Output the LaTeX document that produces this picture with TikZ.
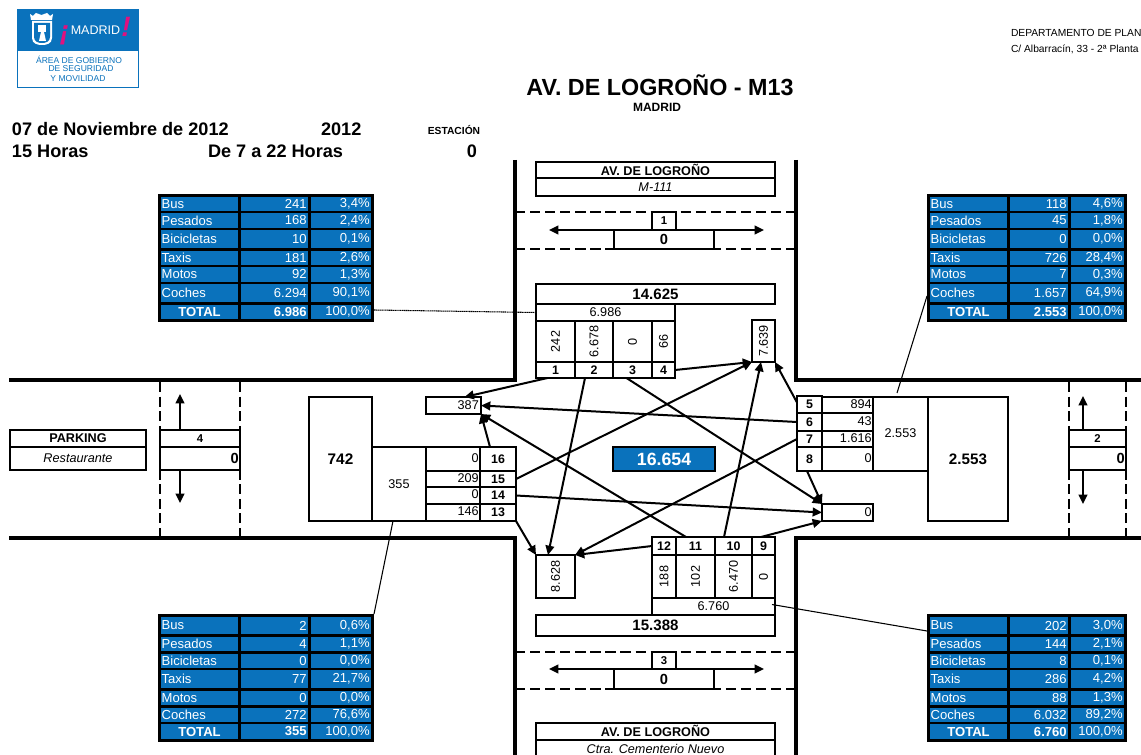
\documentclass[tikz,border=0pt]{standalone}
\usepackage{fontspec}
\usepackage{graphicx}
\setmainfont{Liberation Sans}
\usetikzlibrary{arrows.meta,calc}
\definecolor{mblue}{HTML}{0A72BC}
\definecolor{mpink}{HTML}{E0117F}
\newcommand\fs[1]{\fontsize{#1}{#1}\selectfont}
\tikzset{
  cellbox/.style={draw=black,inner sep=0pt,outer sep=0pt,line width=1.2pt,font=\fs{9.5},fill=white},
  thickbox/.style={cellbox,line width=2.2pt},
  labelbox/.style={thickbox,font=\fs{9.3}\bfseries},
  plain/.style={inner sep=0pt,outer sep=0pt},
  tblbg/.style={draw=none,fill=black,inner sep=0pt,outer sep=0pt},
  tcell/.style={draw=none,fill=mblue,text=white,inner sep=0pt,outer sep=0pt,font=\fs{9.8}},
  road/.style={line width=3pt},
  lane/.style={line width=2.2pt,dash pattern=on 7.7pt off 3.6pt},
  vlane/.style={line width=2.2pt,dash pattern=on 7.5pt off 3.45pt},
  conn/.style={line width=1.5pt,-{Triangle[length=7pt,width=6.5pt]}},
  leader/.style={line width=0.8pt},
}
% centred box
\newcommand\bx[7][]{\node[cellbox,#1,minimum width={(#5-#3)*0.75pt},minimum height={(#6-#4)*0.75pt}] (#2) at ({(#3+#5)/2},{(#4+#6)/2}) {#7};}
% right aligned box
\newcommand\bxr[7][]{\pgfmathsetlengthmacro\tbw{(#5-#3)*0.75pt-2pt}\node[cellbox,#1,minimum width={(#5-#3)*0.75pt},minimum height={(#6-#4)*0.75pt}] (#2) at ({(#3+#5)/2},{(#4+#6)/2}) {\makebox[\tbw][r]{#7}};}
% left aligned box
\newcommand\bxl[7][]{\pgfmathsetlengthmacro\tbw{(#5-#3)*0.75pt-1pt}\node[cellbox,#1,minimum width={(#5-#3)*0.75pt},minimum height={(#6-#4)*0.75pt}] (#2) at ({(#3+#5)/2},{(#4+#6)/2}) {\makebox[\tbw][l]{#7}};}
% table columns
\newcommand\tcols[6]{\def\xa{#1}\def\xb{#2}\def\xc{#3}\def\xd{#4}\def\xe{#5}\def\xf{#6}}
% table row: name y1 y2 label value percent
\newcommand\trow[6]{%
 \bxl[tcell,draw=none]{#1l}{\xa}{#2}{\xb}{#3}{#4}%
 \bxr[tcell,draw=none]{#1v}{\xc}{#2}{\xd}{#3}{#5}%
 \bxr[tcell,draw=none]{#1p}{\xe}{#2}{\xf}{#3}{#6}}
\newcommand\ttotal[5]{%
 \bx[tcell,draw=none,font=\fs{9.8}\bfseries]{#1l}{\xa}{#2}{\xb}{#3}{TOTAL}%
 \bxr[tcell,draw=none,font=\fs{9.8}\bfseries]{#1v}{\xc}{#2}{\xd}{#3}{#4}%
 \bxr[tcell,draw=none]{#1p}{\xe}{#2}{\xf}{#3}{#5}}
\begin{document}
\begin{tikzpicture}[x=0.75pt,y=-0.75pt]
\clip (0,0) rectangle (1141,755);
\fill[white] (0,0) rectangle (1141,755);

% logo
\draw[mblue,line width=0.7pt,fill=white] (17.5,9.5) rectangle (138.5,87.5);
\fill[mblue] (17,9) rectangle (139,51);
\fill[white] (30,14) -- (33,16) -- (36,13) -- (41.5,15) -- (47,13) -- (50,16) -- (53,14) -- (52,20) -- (31,20) -- cycle;
\fill[white] (32,21) -- (52,21) -- (52,38) .. controls (52,44) and (46,45) .. (42,45) .. controls (38,45) and (32,44) .. (32,38) -- cycle;
\fill[mblue] (34,23) -- (50,23) -- (50,37) .. controls (50,42) and (45,43) .. (42,43) .. controls (39,43) and (34,42) .. (34,37) -- cycle;
\fill[white] (38,25) rectangle (46,32);
\fill[white] (41,32) -- (44,32) -- (46,41) -- (39,41) -- cycle;
\node[plain,text=mpink,font=\fs{21}\bfseries\itshape] (lgo1) at (64.5,35) {¡};
\node[plain,text=white,font=\fs{9.4}] (lgo2) at (95.5,30.5) {MADRID};
\node[plain,text=mpink,font=\fs{21}\bfseries\itshape] (lgo3) at (126,27) {!};
\node[plain,text=mblue,font=\fs{6.4}] (lgo4) at (79,60) {ÁREA DE GOBIERNO};
\node[plain,text=mblue,font=\fs{6.4}] (lgo5) at (81,69) {DE SEGURIDAD};
\node[plain,text=mblue,font=\fs{6.4}] (lgo6) at (78,79) {Y MOVILIDAD};

% headers
\node[plain,anchor=base west,font=\fs{7.7}] (h1) at (1011,37) {DEPARTAMENTO DE PLAN};
\node[plain,anchor=base west,font=\fs{7.7}] (h2) at (1011,53) {C/ Albarracín, 33 - 2ª Planta};
\node[plain,anchor=base,font=\fs{17.5}\bfseries] (h3) at (660,96) {AV. DE LOGROÑO - M13};
\node[plain,anchor=base,font=\fs{9}\bfseries] (h4) at (657,112) {MADRID};
\node[plain,anchor=base west,font=\fs{13.6}\bfseries] (h5) at (12,136) {07 de Noviembre de 2012};
\node[plain,anchor=base west,font=\fs{13.6}\bfseries] (h6) at (321,136) {2012};
\node[plain,anchor=base west,font=\fs{13.6}\bfseries] (h7) at (12,158) {15 Horas};
\node[plain,anchor=base west,font=\fs{13.6}\bfseries] (h8) at (208,158) {De 7 a 22 Horas};
\node[plain,anchor=base,font=\fs{7.7}\bfseries] (h9) at (454,135) {ESTACIÓN};
\node[plain,anchor=base,font=\fs{13.6}\bfseries] (h10) at (472,158) {0};

% roads
\draw[road] (515,160) -- (515,380) -- (9,380);
\draw[road] (796,160) -- (796,380) -- (1141,380);
\draw[road] (9,538) -- (515,538) -- (515,755);
\draw[road] (1141,538) -- (796,538) -- (796,755);
\draw[lane] (515,212) -- (796,212);
\draw[lane] (515,249) -- (796,249);
\draw[lane] (515,652) -- (796,652);
\draw[lane] (515,689) -- (796,689);
\draw[vlane] (160,382) -- (160,538);
\draw[vlane] (240,382) -- (240,538);
\draw[vlane] (1069,382) -- (1069,538);
\draw[vlane] (1126,382) -- (1126,538);

% top name box
\bx[thickbox,font=\fs{9.5}\bfseries]{nt1}{536}{162}{775}{178}{AV. DE LOGROÑO}
\bx[thickbox,font=\fs{9.5}\itshape]{nt2}{536}{178}{775}{196}{M-111}
% station 1
\bx[cellbox,font=\fs{11}\bfseries]{z1}{614}{230}{714}{249}{0}
\bx[thickbox,font=\fs{8.5}\bfseries]{s1}{652}{212}{676}{230}{1}
\coordinate (a1l) at (549,230);
\coordinate (a1r) at (764,230);
\draw[conn] (z1.north west) -- (a1l);
\draw[conn] (z1.north east) -- (a1r);
% station 3
\bx[cellbox,font=\fs{11}\bfseries]{z3}{614}{669}{714}{689}{0}
\bx[thickbox,font=\fs{8.5}\bfseries]{s3}{652}{652}{676}{669}{3}
\coordinate (a3l) at (549,669);
\coordinate (a3r) at (764,669);
\draw[conn] (z3.north west) -- (a3l);
\draw[conn] (z3.north east) -- (a3r);
% bottom name box
\bx[thickbox,font=\fs{9.5}\bfseries]{nb1}{536}{723}{775}{740}{\raisebox{1.2pt}{AV. DE LOGROÑO}}
\bx[thickbox,font=\fs{9.5}\itshape]{nb2}{536}{740}{775}{758}{Ctra. Cementerio Nuevo}

% parking and side stations
\bx[thickbox,font=\fs{9.5}\bfseries]{pk1}{10}{430}{146}{447}{PARKING}
\bx[thickbox,font=\fs{9.5}\itshape]{pk2}{10}{447}{146}{470}{Restaurante}
\bx[thickbox,font=\fs{8.5}\bfseries]{s4}{160}{430}{240}{447}{4}
\bxr[cellbox,font=\fs{11}\bfseries]{z4}{160}{447}{240}{470}{0}
\coordinate (a4u) at (180,394);
\coordinate (a4d) at (180,503);
\draw[conn] (s4.north -| a4u) -- (a4u);
\draw[conn] (z4.south -| a4d) -- (a4d);
\bx[thickbox,font=\fs{8.5}\bfseries]{s2}{1069}{430}{1126}{447}{2}
\bxr[cellbox,font=\fs{11}\bfseries]{z2}{1069}{447}{1126}{470}{0}
\coordinate (a2u) at (1083,396);
\coordinate (a2d) at (1083,504);
\draw[conn] (s2.north -| a2u) -- (a2u);
\draw[conn] (z2.south -| a2d) -- (a2d);

% top approach
\bx[thickbox,font=\fs{11.3}\bfseries]{t14625}{536}{284}{775}{304}{14.625}
\bx{o6986}{536}{304}{675}{321}{6.986}
\bx{c1}{536}{321}{575}{362}{\rotatebox{90}{242}}
\bx{c2}{575}{321}{613}{362}{\rotatebox{90}{6.678}}
\bx{c3}{613}{321}{652}{362}{\rotatebox{90}{0}}
\bx{c4}{652}{321}{675}{362}{\rotatebox{90}{66}}
\bx[labelbox]{l1}{536}{362}{575}{378}{1}
\bx[labelbox]{l2}{575}{362}{613}{378}{2}
\bx[labelbox]{l3}{613}{362}{652}{378}{3}
\bx[labelbox]{l4}{652}{362}{675}{378}{4}
\bx[thickbox]{o7639}{752}{320}{775}{362}{\rotatebox{90}{7.639}}

% left approach
\bx[thickbox]{o387}{426}{397}{481}{414}{\makebox[38pt][r]{387}}
\bx[cellbox,font=\fs{11.5}\bfseries]{o742}{309}{397}{372}{521}{742}
\bx{o355}{372}{447}{426}{521}{355}
\bxr{d16}{426}{447}{480}{471}{\raisebox{1pt}{0}}
\bxr{d15}{426}{471}{480}{487}{\raisebox{2pt}{209}}
\bxr{d14}{426}{487}{480}{504}{\raisebox{2pt}{0}}
\bxr{d13}{426}{504}{480}{521}{\raisebox{2pt}{146}}
\bx[labelbox]{l16}{480}{447}{516}{471}{16}
\bx[labelbox]{l15}{480}{471}{516}{487}{15}
\bx[labelbox]{l14}{480}{487}{516}{504}{14}
\bx[labelbox]{l13}{480}{504}{516}{521}{13}

% right approach
\bx[labelbox]{l5}{797}{396}{822}{413}{5}
\bx[labelbox]{l6}{797}{413}{822}{431}{6}
\bx[labelbox]{l7}{797}{431}{822}{447}{7}
\bx[labelbox]{l8}{797}{447}{822}{471}{8}
\bxr{d5}{822}{397}{873}{413}{\raisebox{2pt}{894}}
\bxr{d6}{822}{413}{873}{431}{\raisebox{2pt}{43}}
\bxr{d7}{822}{431}{873}{447}{\raisebox{2pt}{1.616}}
\bxr{d8}{822}{447}{873}{471}{\raisebox{1pt}{0}}
\bx{o2553}{873}{397}{928}{471}{\raisebox{1.5pt}{2.553}}
\bx[cellbox,font=\fs{11.4}\bfseries]{b2553}{928}{397}{1008}{521}{2.553}
\bxr{ozero}{822}{504}{873}{521}{0}

% bottom approach
\bx[thickbox,font=\fs{11.3}\bfseries]{t15388}{536}{615}{775}{636}{15.388}
\bx{o6760}{652}{598}{775}{615}{6.760}
\bx{c12}{652}{555}{676}{598}{\rotatebox{90}{188}}
\bx{c11}{676}{555}{715}{598}{\rotatebox{90}{102}}
\bx{c10}{715}{555}{752}{598}{\rotatebox{90}{6.470}}
\bx{c9}{752}{555}{775}{598}{\rotatebox{90}{0}}
\bx[labelbox]{l12}{652}{537}{676}{555}{12}
\bx[labelbox]{l11}{676}{537}{715}{555}{11}
\bx[labelbox]{l10}{715}{537}{752}{555}{10}
\bx[labelbox]{l9}{752}{537}{775}{555}{9}
\bx{o8628}{536}{555}{575}{598}{\rotatebox{90}{8.628}}

% total
\bx[thickbox,fill=mblue,text=white,font=\fs{13.3}\bfseries]{tot}{613}{447}{715}{471}{16.654}

% tables
\bx[tblbg]{tA}{158}{194}{374}{322}{}
\tcols{161}{238}{241}{308}{311}{371}
\trow{a1}{197}{211}{Bus}{241}{3,4\%}
\trow{a2}{213}{228}{Pesados}{168}{2,4\%}
\trow{a3}{230}{248}{Bicicletas}{10}{0,1\%}
\trow{a4}{251}{265}{Taxis}{181}{2,6\%}
\trow{a5}{267}{282}{Motos}{92}{1,3\%}
\trow{a6}{284}{302}{Coches}{6.294}{90,1\%}
\ttotal{a7}{305}{319}{6.986}{100,0\%}

\bx[tblbg]{tC}{158}{614}{374}{742}{}
\trow{e1}{617}{634}{Bus}{2}{0,6\%}
\trow{e2}{637}{651}{Pesados}{4}{1,1\%}
\trow{e3}{654}{668}{Bicicletas}{0}{0,0\%}
\trow{e4}{670}{688}{Taxis}{77}{21,7\%}
\trow{e5}{691}{705}{Motos}{0}{0,0\%}
\trow{e6}{708}{722}{Coches}{272}{76,6\%}
\ttotal{e7}{724}{739}{355}{100,0\%}

\bx[tblbg]{tB}{927}{194}{1127}{322}{}
\tcols{930}{1007}{1010}{1068}{1071}{1124}
\trow{b1}{197}{211}{Bus}{118}{4,6\%}
\trow{b2}{213}{228}{Pesados}{45}{1,8\%}
\trow{b3}{230}{248}{Bicicletas}{0}{0,0\%}
\trow{b4}{251}{265}{Taxis}{726}{28,4\%}
\trow{b5}{267}{282}{Motos}{7}{0,3\%}
\trow{b6}{284}{302}{Coches}{1.657}{64,9\%}
\ttotal{b7}{305}{319}{2.553}{100,0\%}

\bx[tblbg]{tD}{927}{614}{1127}{742}{}
\trow{f1}{617}{634}{Bus}{202}{3,0\%}
\trow{f2}{637}{651}{Pesados}{144}{2,1\%}
\trow{f3}{654}{668}{Bicicletas}{8}{0,1\%}
\trow{f4}{670}{688}{Taxis}{286}{4,2\%}
\trow{f5}{691}{705}{Motos}{88}{1,3\%}
\trow{f6}{708}{722}{Coches}{6.032}{89,2\%}
\ttotal{f7}{724}{739}{6.760}{100,0\%}

% leaders
\draw[leader,dash pattern=on 1pt off 0.4pt] ($(tA.south east)+(0,-12)$) -- (o6986.west);
\draw[leader] ($(tB.south west)+(0,-26)$) -- ($(o2553.north)+(-3.5,-4)$);
\draw[leader] (tC.north east) -- ($(o355.south)+(-6,0)$);
\draw[leader] ($(o6760.east)+(-3,-2)$) -- ($(tD.north west)+(0,17)$);

% movements
\draw[conn] ($(l1.south)+(-8,0)$) -- ($(o387.north)+(11,0)$);
\draw[conn] ($(l2.south)+(-9,0)$) -- ($(o8628.north)+(-7.5,0)$);
\draw[conn] ($(l3.south)+(-6,0)$) -- (ozero.north west);
\draw[conn] (l4.east) -- (o7639.south west);
\draw[conn] ($(l5.west)+(0,-2)$) -- (o7639.south east);
\draw[conn] (l6.west) -- (o387.east);
\draw[conn] (l7.west) -- (o8628.north east);
\draw[conn] ($(l8.south)+(-2.5,0)$) -- (ozero.north west);
\draw[conn] ($(l9.north)+(-2.5,0)$) -- (ozero.south west);
\draw[conn] ($(l10.north)+(-9.5,0)$) -- ($(o7639.south)+(-2.5,0)$);
\draw[conn] ($(l11.north)+(-9.5,0)$) -- (o387.south east);
\draw[conn] (l12.west) -- (o8628.north east);
\draw[conn] (l13.south east) -- (o8628.north west);
\draw[conn] (l14.east) -- (ozero.west);
\draw[conn] (l15.east) -- (o7639.south west);
\draw[conn] ($(l16.north)+(-8,0)$) -- (o387.south east);
\end{tikzpicture}
\end{document}
